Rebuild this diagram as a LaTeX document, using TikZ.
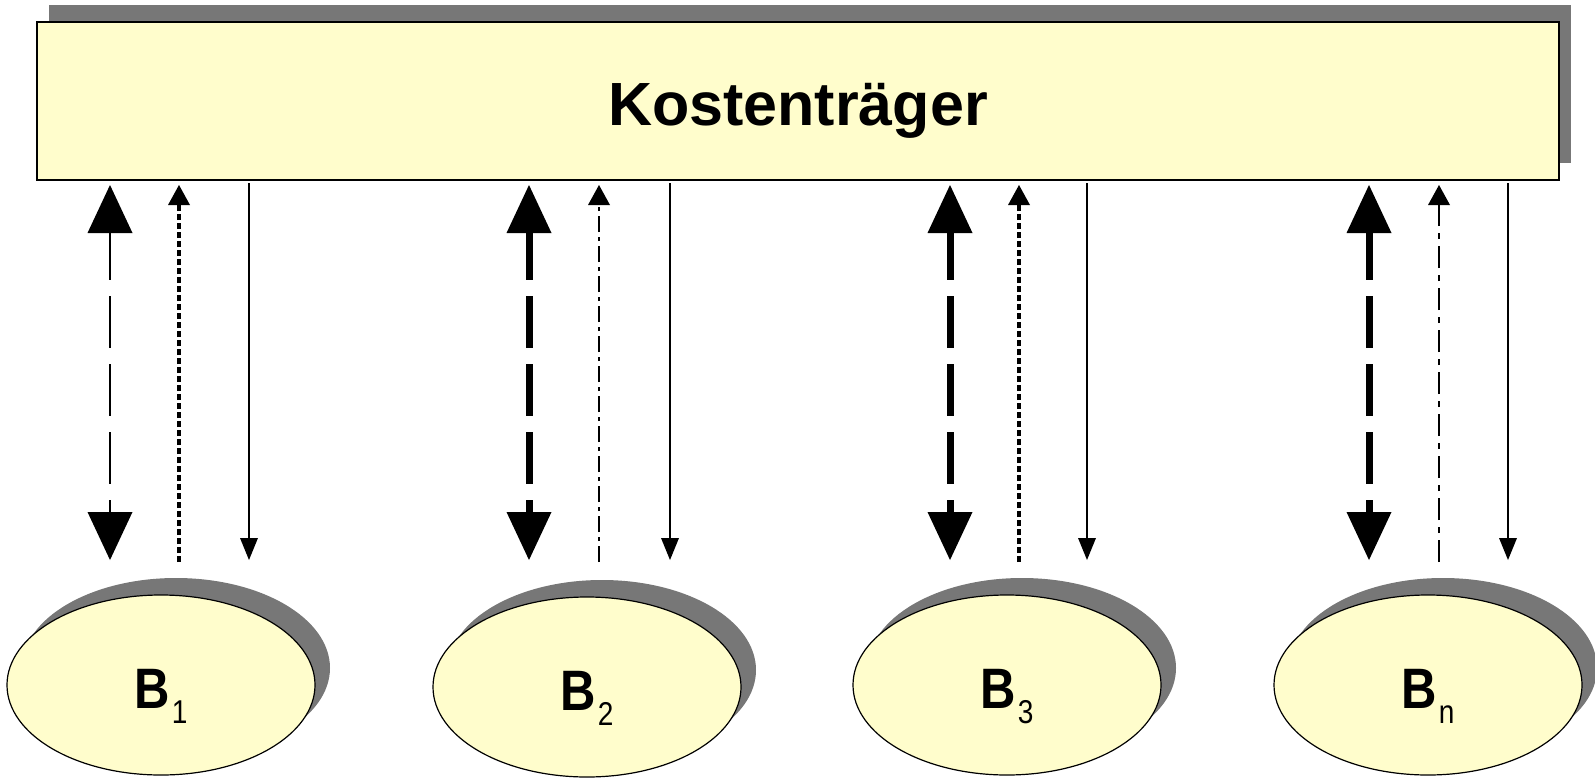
\documentclass[tikz,border=0pt]{standalone}
\usepackage{fontspec}
\setmainfont{Liberation Sans}
\usetikzlibrary{arrows.meta,shapes.geometric,shadows}
\definecolor{boxfill}{HTML}{FFFDCC}
\definecolor{shadowgray}{HTML}{777777}

\tikzset{
  headbig/.tip={Triangle[width=45pt,length=48pt,line width=0pt]},
  headsmall/.tip={Triangle[width=22pt,length=20pt,line width=0pt]},
  headtiny/.tip={Triangle[width=18pt,length=22pt,line width=0pt]},
  panel/.style={rectangle, draw=black, line width=2pt, fill=boxfill,
    minimum width=1522pt, minimum height=158pt, inner sep=0pt,
    text height=49pt, text depth=0pt,
    drop shadow={shadow xshift=12pt, shadow yshift=17pt, fill=shadowgray, opacity=1},
    font=\fontsize{61}{61}\selectfont\bfseries},
  unit/.style={ellipse, draw=black, line width=1.2pt, fill=boxfill,
    minimum width=308pt, minimum height=180pt, inner sep=0pt,
    text height=46pt, text depth=0pt,
    drop shadow={shadow xshift=15pt, shadow yshift=17pt, fill=shadowgray, opacity=1}},
  flowthin/.style={line width=2.7pt, dash pattern=on 52pt off 16pt, dash phase=5pt, headbig-headbig},
  flowthick/.style={line width=7pt, dash pattern=on 52pt off 16pt, dash phase=5pt, headbig-headbig},
  dotup/.style={line width=4pt, dash pattern=on 6pt off 3pt, -headsmall},
  dashdotup/.style={line width=2.5pt, dash pattern=on 16pt off 5pt on 4pt off 5pt, -headsmall},
  longdashup/.style={line width=2.5pt, dash pattern=on 22pt off 7pt on 6pt off 7pt, -headsmall},
  solidown/.style={line width=2pt, -headtiny},
}

\newcommand{\unitlabel}[1]{{\fontsize{57}{57}\selectfont\bfseries\scalebox{0.86}[1]{B}}\hspace{2pt}\raisebox{-15pt}{\fontsize{33}{33}\selectfont\scalebox{0.85}[1]{#1}}}

\begin{document}
\begin{tikzpicture}[x=1pt,y=-1pt]
\useasboundingbox (0,0) rectangle (1595,779);

% cost object box
\node[panel] (K) at (798,101) {Kostenträger};

% the units B_1 ... B_n
\node[unit] (B1) at (161,685) {\unitlabel{1}};
\node[unit] (B2) at (587,687) {\unitlabel{2}};
\node[unit] (B3) at (1007,685) {\unitlabel{3}};
\node[unit] (Bn) at (1428,685) {\unitlabel{n}};

% end points of the three connectors of every unit
\foreach \n/\xa/\xb/\xc in {1/110/179/249, 2/529/599/670, 3/950/1019/1087, n/1369/1439/1508} {
  \coordinate (bt\n) at (\xa,185);
  \coordinate (bb\n) at (\xa,560);
  \coordinate (ut\n) at (\xb,185);
  \coordinate (ub\n) at (\xb,562);
  \coordinate (dt\n) at (\xc,183);
  \coordinate (db\n) at (\xc,560);
}

% exchange (both directions)
\draw[flowthin]  (bt1) -- (bb1);
\draw[flowthick] (bt2) -- (bb2);
\draw[flowthick] (bt3) -- (bb3);
\draw[flowthick] (btn) -- (bbn);

% reports upwards
\draw[dotup]      (ub1) -- (ut1);
\draw[dashdotup]  (ub2) -- (ut2);
\draw[dotup]      (ub3) -- (ut3);
\draw[longdashup] (ubn) -- (utn);

% orders downwards
\draw[solidown] (dt1) -- (db1);
\draw[solidown] (dt2) -- (db2);
\draw[solidown] (dt3) -- (db3);
\draw[solidown] (dtn) -- (dbn);
\end{tikzpicture}
\end{document}
